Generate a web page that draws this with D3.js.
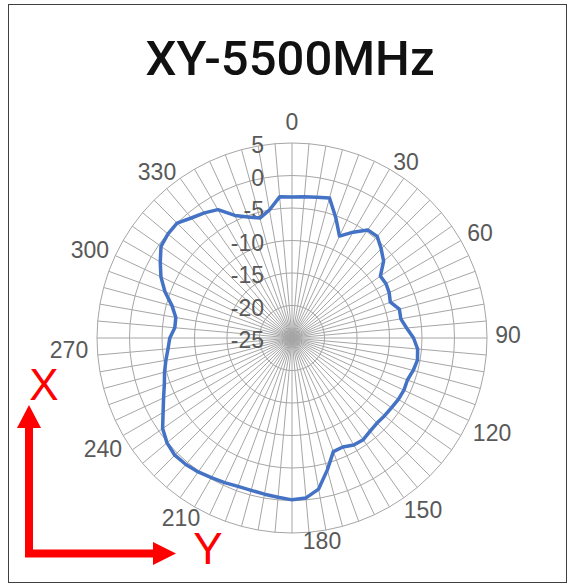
<!DOCTYPE html>
<html>
<head>
<meta charset="utf-8">
<script src="https://cdn.jsdelivr.net/npm/d3@7"></script>
<style>
  html, body { margin: 0; padding: 0; background: #fff; }
  svg { display: block; }
</style>
</head>
<body>
<svg id="chart" width="572" height="585"></svg>
<script>
// ---- data ----
const title = "XY-5500MHz";
const angles = d3.range(0, 360, 5); // 72 categories, 0..355 deg
const gainDb = [
  -3.3, -3.2, -3.0, -2.7, -5.3, -7.7, -6.2, -4.7, -4.6, -5.6, -6.6, -8.4,
  -8.3, -8.5, -8.9, -7.9, -8.0, -7.3, -6.3, -5.6, -5.4, -5.7, -6.1, -6.0,
  -6.1, -6.3, -6.4, -6.5, -6.3, -5.9, -6.0, -6.5, -6.4, -4.0, -1.4, -0.3,
  -0.1, -0.4, -0.6, -0.74, -0.7, -0.45, -0.2, 0.15, 0.4, 0.5, 0.1, -0.7,
  -2.1, -3.2, -4.1, -4.7, -5.3, -5.85, -6.2, -6.9, -6.85, -5.9, -4.2, -2.75,
  -1.6, -0.4, -0.1, 0.0, -0.9, -1.5, -2.2, -4.2, -5.2, -5.9, -5.0, -3.2
];
const radialTicks = [-25, -20, -15, -10, -5, 0, 5];
const categoryLabels = [0, 30, 60, 90, 120, 150, 180, 210, 240, 270, 300, 330];
const axisLabels = { x: "X", y: "Y" };

// ---- layout ----
const W = 572, H = 585;
const cx = 292, cy = 338, R = 195;
const labelR = 216;
// Excel-style label nudges (px)
const labelNudge = {
  0: [0, 0], 30: [6, 11], 60: [1, 3], 90: [0, -3], 120: [13, -13], 150: [23, -15],
  180: [30, -13], 210: [-3, -7], 240: [-2, 3], 270: [-7, 12], 300: [-15, 20], 330: [-27, 21]
};

const svg = d3.select("#chart");

// border
svg.append("rect")
  .attr("x", 8.5).attr("y", 4.5)
  .attr("width", 558).attr("height", 578)
  .attr("fill", "#fff").attr("stroke", "#404040").attr("stroke-width", 1);

// title
svg.append("text")
  .attr("x", 290).attr("y", 75)
  .attr("text-anchor", "middle")
  .attr("font-family", "Roboto, Liberation Sans, Arial, sans-serif")
  .attr("font-size", 49)
  .attr("font-weight", 500)
  .attr("fill", "#111")
  .text(title);

const angle = d3.scaleLinear().domain([0, 360]).range([0, 2 * Math.PI]);
const r = d3.scaleLinear().domain([radialTicks[0], radialTicks[radialTicks.length - 1]]).range([0, R]);

const g = svg.append("g").attr("transform", `translate(${cx},${cy})`);

// ring gridlines (polygons)
const ring = d3.lineRadial()
  .angle(d => angle(d))
  .curve(d3.curveLinearClosed);
radialTicks.slice(1).forEach(t => {
  g.append("path")
    .attr("d", ring.radius(() => r(t))(angles))
    .attr("fill", "none")
    .attr("stroke", "#a6a6a6")
    .attr("stroke-width", 1);
});

// spokes
g.selectAll("line.spoke")
  .data(angles)
  .join("line")
  .attr("class", "spoke")
  .attr("x1", 0).attr("y1", 0)
  .attr("x2", d => R * Math.sin(angle(d)))
  .attr("y2", d => -R * Math.cos(angle(d)))
  .attr("stroke", "#a6a6a6")
  .attr("stroke-width", 1);

// radial tick labels
g.selectAll("text.rtick")
  .data(radialTicks)
  .join("text")
  .attr("class", "rtick")
  .attr("x", -28)
  .attr("y", d => -r(d) + 2)
  .attr("text-anchor", "end")
  .attr("dominant-baseline", "central")
  .attr("font-family", "Liberation Sans, Arial, sans-serif")
  .attr("font-size", 23)
  .attr("fill", "#595959")
  .text(d => d);

// category labels
g.selectAll("text.cat")
  .data(categoryLabels)
  .join("text")
  .attr("class", "cat")
  .attr("x", d => labelR * Math.sin(angle(d)) + labelNudge[d][0])
  .attr("y", d => -labelR * Math.cos(angle(d)) + labelNudge[d][1])
  .attr("text-anchor", "middle")
  .attr("dominant-baseline", "central")
  .attr("font-family", "Liberation Sans, Arial, sans-serif")
  .attr("font-size", 23)
  .attr("fill", "#595959")
  .text(d => d);

// data line
const dataLine = d3.lineRadial()
  .angle((d, i) => angle(angles[i]))
  .radius(d => r(d))
  .curve(d3.curveLinearClosed);
g.append("path")
  .attr("d", dataLine(gainDb))
  .attr("fill", "none")
  .attr("stroke", "#4472C4")
  .attr("stroke-width", 3.5)
  .attr("stroke-linejoin", "round");

// red axis arrows
const red = "#ff0000";
svg.append("path")
  .attr("d", "M29,428 L29,553.5 L154,553.5")
  .attr("fill", "none").attr("stroke", red).attr("stroke-width", 8)
  .attr("stroke-linecap", "square");
svg.append("path")
  .attr("d", "M29,405 L17,428 L41,428 Z")
  .attr("fill", red);
svg.append("path")
  .attr("d", "M176,553.5 L153,542 L153,565 Z")
  .attr("fill", red);
svg.append("text")
  .attr("x", 44).attr("y", 400)
  .attr("text-anchor", "middle")
  .attr("font-family", "Liberation Sans, Arial, sans-serif")
  .attr("font-size", 44)
  .attr("fill", red)
  .text(axisLabels.x);
svg.append("text")
  .attr("x", 208).attr("y", 564)
  .attr("text-anchor", "middle")
  .attr("font-family", "Liberation Sans, Arial, sans-serif")
  .attr("font-size", 44)
  .attr("fill", red)
  .text(axisLabels.y);
</script>
</body>
</html>
